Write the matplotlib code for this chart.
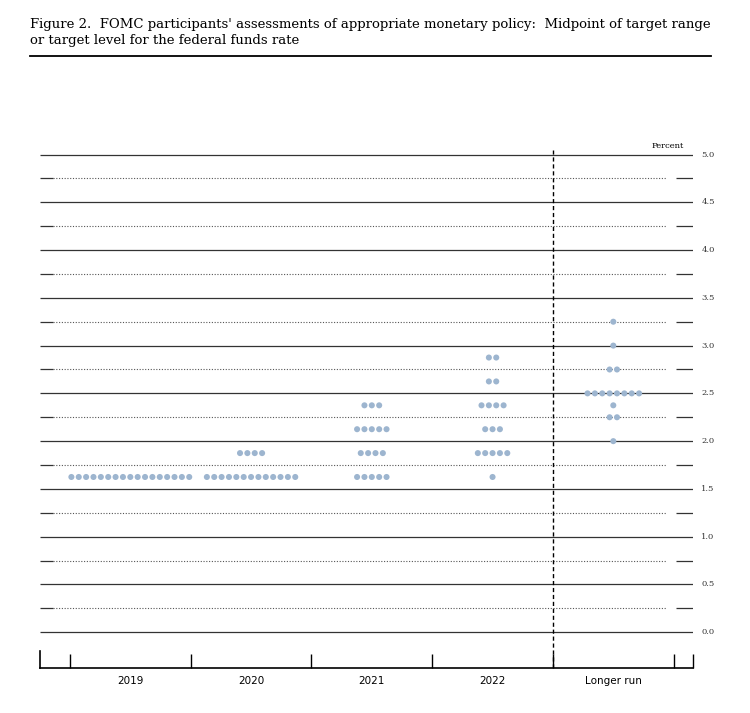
import matplotlib
matplotlib.use('Agg')
import matplotlib.pyplot as plt
import numpy as np

columns = ['2019', '2020', '2021', '2022', 'Longer run']
# (rate, number of participants) for each column
dots_2019 = [(1.625, 17)]
dots_2020 = [(1.875, 4), (1.625, 13)]
dots_2021 = [(2.375, 3), (2.125, 5), (1.875, 4), (1.625, 5)]
dots_2022 = [(2.875, 2), (2.625, 2), (2.375, 4), (2.125, 3), (1.875, 5), (1.625, 1)]
dots_longer = [(3.25, 1), (3.0, 1), (2.75, 2), (2.5, 8), (2.375, 1), (2.25, 2), (2.0, 1)]
all_dots = [dots_2019, dots_2020, dots_2021, dots_2022, dots_longer]
y_ticks = [0.0, 0.5, 1.0, 1.5, 2.0, 2.5, 3.0, 3.5, 4.0, 4.5, 5.0]

fig = plt.figure(figsize=(7.5, 7.13), dpi=100)
fig.text(0.04, 0.975, "Figure 2.  FOMC participants' assessments of appropriate monetary policy:  Midpoint of target range\nor target level for the federal funds rate",
         family='DejaVu Serif', fontsize=9.5, va='top', ha='left', linespacing=1.3)
fig.add_artist(plt.Line2D([0.04, 0.948], [0.921, 0.921], color='black', lw=1.3))

ax = fig.add_axes([0.053, 0.063, 0.871, 0.727])
xmin, xmax = -0.75, 4.66
ax.set_xlim(xmin, xmax)
ax.set_ylim(-0.375, 5.05)

for i in range(21):
    y = i * 0.25
    if i % 2 == 0:
        ax.hlines(y, xmin, xmax, color='#333333', lw=0.9)
    else:
        ax.hlines(y, xmin, -0.64, color='#333333', lw=0.9)
        ax.hlines(y, -0.64, 4.44, color='#555555', lw=0.8, linestyle=(0, (1, 1.5)))
        ax.hlines(y, 4.52, xmax, color='#333333', lw=0.9)

ax.axvline(3.5, color='black', lw=1, linestyle=(0, (3, 2)))

step = 0.061
for i, col in enumerate(all_dots):
    for rate, n in col:
        xs = i + (np.arange(n) - (n - 1) / 2) * step
        ax.scatter(xs, [rate] * n, s=19, color='#9db5cf', edgecolors='none', zorder=3)

for y in y_ticks:
    ax.text(xmax + 0.07, y, f'{y:.1f}', fontsize=6, va='center', ha='left',
            family='DejaVu Serif', color='#333333')
ax.text(4.45, 5.05, 'Percent', fontsize=6, ha='center', va='bottom', family='DejaVu Serif')

for s in ['top', 'right']:
    ax.spines[s].set_visible(False)
ax.spines['left'].set_bounds(-0.375, -0.2)
ax.spines['bottom'].set_linewidth(1.2)
ax.spines['left'].set_linewidth(1.2)
ax.set_yticks([])
ax.set_xticks([0.5, 1.5, 2.5, 3.5], minor=False)
ax.tick_params(axis='x', which='major', direction='in', length=10, width=1, labelbottom=False)
ax.set_xticks([-0.5, 4.5, xmax], minor=True)
ax.tick_params(axis='x', which='minor', direction='in', length=10, width=1)
for i, c in enumerate(columns):
    ax.text(i, -0.46, c, ha='center', va='top', fontsize=7.5, family='DejaVu Sans')

fig.savefig('out.png')
